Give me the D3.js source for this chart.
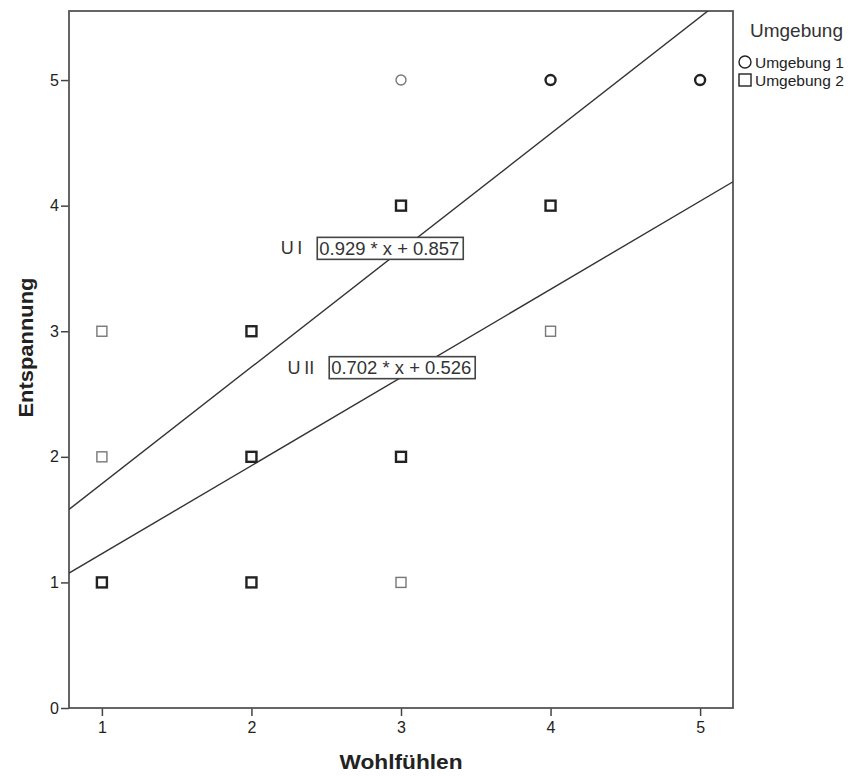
<!DOCTYPE html>
<html>
<head>
<meta charset="utf-8">
<script src="https://cdn.jsdelivr.net/npm/d3@7"></script>
<style>
  body { margin: 0; background: #fff; }
  text { font-family: "Liberation Sans", Arial, sans-serif; }
</style>
</head>
<body>
<div class="canvas"></div>
<script>
const WIDTH = 856;
const HEIGHT = 776;
const margin = { top: 11, right: 123, bottom: 68, left: 69 };

// data: marker positions per group, count = how many overlapping cases
const group1X = [3, 4, 5];
const group1Y = [5, 5, 5];
const group1N = [1, 2, 2];

const group2X = [3, 4, 1, 2, 4, 1, 2, 3, 1, 2, 3];
const group2Y = [4, 4, 3, 3, 3, 2, 2, 2, 1, 1, 1];
const group2N = [2, 2, 1, 2, 1, 1, 2, 2, 2, 2, 1];

// fit lines: slope, intercept, and where the label box sits (left edge, centre)
const fitNames = ['U I', 'U II'];
const fitSlope = [0.929, 0.702];
const fitIntercept = [0.857, 0.526];
const fitLabelAt = [[2.44, 3.66], [2.52, 2.71]];

const xTicks = [1, 2, 3, 4, 5];
const yTicks = [0, 1, 2, 3, 4, 5];
const legendLabels = ['Umgebung 1', 'Umgebung 2'];

const graphWidth = WIDTH - margin.left - margin.right;
const graphHeight = HEIGHT - margin.top - margin.bottom;

const svg = d3.select('.canvas')
  .append('svg')
    .attr('width', WIDTH)
    .attr('height', HEIGHT);

const x = d3.scaleLinear().domain([0.78, 5.22]).range([0, graphWidth]);
const y = d3.scaleLinear().domain([0, 5.55]).range([graphHeight, 0]);

const graph = svg.append('g')
  .attr('transform', `translate(${margin.left},${margin.top})`);

svg.append('clipPath').attr('id', 'plot')
  .append('rect').attr('width', graphWidth).attr('height', graphHeight);

// axes
const xAxis = graph.append('g')
  .attr('transform', `translate(0,${graphHeight})`)
  .call(d3.axisBottom(x).tickValues(xTicks).tickSize(8).tickSizeOuter(0).tickFormat(d3.format('d')));
const yAxis = graph.append('g')
  .call(d3.axisLeft(y).tickValues(yTicks).tickSize(8).tickSizeOuter(0).tickFormat(d3.format('d')));

[xAxis, yAxis].forEach(a => {
  a.select('.domain').remove();
  a.selectAll('line').attr('stroke', '#444').attr('stroke-width', 1.5);
  a.selectAll('text').attr('fill', '#222').style('font-size', '16px');
});
xAxis.selectAll('text').attr('y', 12).attr('dy', '0.8em');
yAxis.selectAll('text').attr('x', -10);

// frame
graph.append('rect')
  .attr('width', graphWidth)
  .attr('height', graphHeight)
  .attr('fill', 'none')
  .attr('stroke', '#555')
  .attr('stroke-width', 1.8);

// fit lines
const lines = graph.append('g').attr('clip-path', 'url(#plot)');
fitSlope.forEach((m, i) => {
  const [x0, x1] = x.domain();
  lines.append('line')
    .attr('x1', x(x0)).attr('y1', y(m * x0 + fitIntercept[i]))
    .attr('x2', x(x1)).attr('y2', y(m * x1 + fitIntercept[i]))
    .attr('stroke', '#333')
    .attr('stroke-width', 1.4);
});

// fit labels
fitNames.forEach((name, i) => {
  const [lx, ly] = fitLabelAt[i];
  const g = graph.append('g').attr('transform', `translate(${x(lx)},${y(ly)})`);
  g.append('rect')
    .attr('x', 0).attr('y', -11)
    .attr('width', 146).attr('height', 22)
    .attr('fill', '#fff')
    .attr('stroke', '#444')
    .attr('stroke-width', 1.6);
  g.append('text')
    .attr('x', -15).attr('y', 6)
    .attr('text-anchor', 'end')
    .style('font-size', '18px')
    .attr('fill', '#333')
    .text(name.replace(' ', '\u2009'));
  g.append('text')
    .attr('x', 2).attr('y', 6.5)
    .style('font-size', '18px')
    .attr('textLength', 140)
    .attr('lengthAdjust', 'spacingAndGlyphs')
    .attr('fill', '#333')
    .text(`${fitSlope[i]} * x + ${fitIntercept[i]}`);
});

// markers
const strokeFor = n => n > 1 ? '#222' : '#777';
const widthFor = n => n > 1 ? 2.4 : 1.4;

graph.selectAll('circle.g1')
  .data(group1X.map((d, i) => ({ x: d, y: group1Y[i], n: group1N[i] })))
  .enter().append('circle')
    .attr('class', 'g1')
    .attr('cx', d => x(d.x))
    .attr('cy', d => y(d.y))
    .attr('r', 5)
    .attr('fill', 'none')
    .attr('stroke', d => strokeFor(d.n))
    .attr('stroke-width', d => widthFor(d.n));

graph.selectAll('rect.g2')
  .data(group2X.map((d, i) => ({ x: d, y: group2Y[i], n: group2N[i] })))
  .enter().append('rect')
    .attr('class', 'g2')
    .attr('x', d => x(d.x) - 5)
    .attr('y', d => y(d.y) - 5)
    .attr('width', 10)
    .attr('height', 10)
    .attr('fill', 'none')
    .attr('stroke', d => strokeFor(d.n))
    .attr('stroke-width', d => widthFor(d.n));

// axis titles
svg.append('text')
  .attr('x', margin.left + x(3))
  .attr('y', 769)
  .attr('text-anchor', 'middle')
  .style('font-size', '20px')
  .style('font-weight', 'bold')
  .attr('textLength', 123)
  .attr('lengthAdjust', 'spacingAndGlyphs')
  .attr('fill', '#222')
  .text('Wohlfühlen');

svg.append('text')
  .attr('transform', `translate(33,${margin.top + y(2.87)}) rotate(-90)`)
  .attr('text-anchor', 'middle')
  .style('font-size', '20px')
  .style('font-weight', 'bold')
  .attr('textLength', 140)
  .attr('lengthAdjust', 'spacingAndGlyphs')
  .attr('fill', '#222')
  .text('Entspannung');

// legend
const legend = svg.append('g').attr('transform', 'translate(738,0)');
legend.append('text')
  .attr('x', 12).attr('y', 37)
  .style('font-size', '19px')
  .attr('fill', '#333')
  .text('Umgebung');
legendLabels.forEach((label, i) => {
  const cy = 62 + i * 18;
  if (i === 0) {
    legend.append('circle').attr('cx', 7).attr('cy', cy).attr('r', 6)
      .attr('fill', 'none').attr('stroke', '#222').attr('stroke-width', 1.4);
  } else {
    legend.append('rect').attr('x', 1).attr('y', cy - 6).attr('width', 12).attr('height', 12)
      .attr('fill', 'none').attr('stroke', '#222').attr('stroke-width', 1.4);
  }
  legend.append('text')
    .attr('x', 17).attr('y', cy + 5.5)
    .style('font-size', '15.5px')
    .attr('fill', '#222')
    .text(label);
});
</script>
</body>
</html>
